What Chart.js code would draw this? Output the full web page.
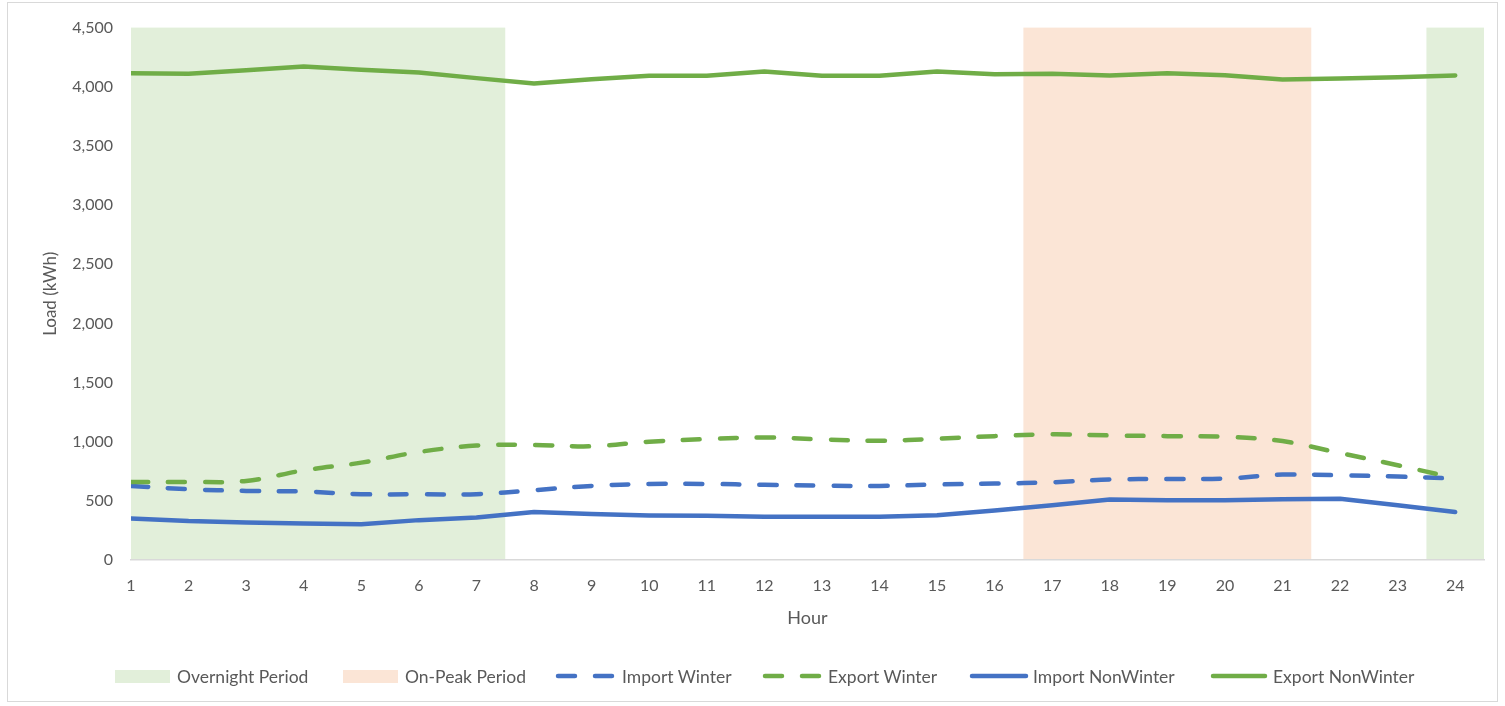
<!DOCTYPE html>
<html>
<head>
<meta charset="utf-8">
<script src="https://cdn.jsdelivr.net/npm/chart.js@4/dist/chart.umd.min.js"></script>
<style>
  body { margin: 0; background: #fff; }
  #wrap { position: relative; width: 1505px; height: 706px; font-family: Lato, sans-serif; }
  #frame { position: absolute; left: 7px; top: 2px; width: 1491px; height: 700px; border: 1px solid #d9d9d9; box-sizing: border-box; pointer-events: none; }
  .leg { position: absolute; top: 666px; height: 20px; display: flex; align-items: center; font-size: 17.5px; color: #595959; white-space: nowrap; }
  .leg .box { display: inline-block; height: 13px; }
  .leg svg { display: block; }
</style>
</head>
<body>
<div id="wrap">
  <canvas id="loadChart" width="1505" height="706"></canvas>
  <div id="frame"></div>
  <div id="legend"></div>
</div>
<script>
const hours = [1, 2, 3, 4, 5, 6, 7, 8, 9, 10, 11, 12, 13, 14, 15, 16, 17, 18, 19, 20, 21, 22, 23, 24];

const importWinter = [626, 598, 584, 579, 556, 556, 556, 590, 626, 643, 643, 635, 629, 626, 638, 646, 657, 680, 685, 688, 722, 716, 705, 688];
const exportWinter = [660, 660, 668, 758, 823, 913, 967, 972, 961, 1000, 1022, 1036, 1019, 1008, 1025, 1047, 1062, 1053, 1047, 1042, 1005, 904, 801, 692];
const importNonWinter = [351, 329, 318, 309, 303, 337, 360, 405, 388, 377, 374, 365, 365, 365, 379, 418, 463, 511, 506, 506, 514, 517, 463, 405];
const exportNonWinter = [4115, 4110, 4140, 4171, 4143, 4121, 4073, 4028, 4064, 4093, 4093, 4129, 4093, 4093, 4129, 4106, 4110, 4096, 4115, 4098, 4062, 4070, 4081, 4096];

// shaded hour ranges (start, end on the hour axis)
const overnightPeriods = [[1, 7.5], [23.5, 24.5]];
const onPeakPeriods = [[16.5, 21.5]];

const BLUE = '#4472C4';
const GREEN = '#70AD47';
const OVERNIGHT = '#E2EFDA';
const ONPEAK = '#FBE5D6';
const TEXT = '#595959';

function toPoints(values) {
  return hours.map((h, i) => ({ x: h, y: values[i] }));
}

// Draw the period bands behind the lines
const periodShading = {
  id: 'periodShading',
  beforeDatasetsDraw(chart) {
    const { ctx, chartArea, scales: { x } } = chart;
    ctx.save();
    const fill = (ranges, color) => {
      ranges.forEach(([a, b]) => {
        const x0 = x.getPixelForValue(a);
        const x1 = x.getPixelForValue(b);
        ctx.fillStyle = color;
        ctx.fillRect(x0, chartArea.top, x1 - x0, chartArea.bottom - chartArea.top - 1);
      });
    };
    fill(overnightPeriods, OVERNIGHT);
    fill(onPeakPeriods, ONPEAK);
    ctx.restore();
  }
};

const lineStyle = {
  pointRadius: 0,
  pointHoverRadius: 0,
  fill: false,
  borderCapStyle: 'round',
  borderJoinStyle: 'round'
};

new Chart(document.getElementById('loadChart'), {
  type: 'line',
  data: {
    datasets: [
      { ...lineStyle, label: 'Import Winter', data: toPoints(importWinter), borderColor: BLUE, borderWidth: 4.5, borderDash: [17, 20], tension: 0.35, order: 4 },
      { ...lineStyle, label: 'Export Winter', data: toPoints(exportWinter), borderColor: GREEN, borderWidth: 4.5, borderDash: [17, 20], tension: 0.35, order: 3 },
      { ...lineStyle, label: 'Import NonWinter', data: toPoints(importNonWinter), borderColor: BLUE, borderWidth: 4.5, tension: 0, order: 2 },
      { ...lineStyle, label: 'Export NonWinter', data: toPoints(exportNonWinter), borderColor: GREEN, borderWidth: 4.5, tension: 0, order: 1 }
    ]
  },
  options: {
    responsive: false,
    animation: false,
    events: [],
    layout: { padding: { left: 30, right: 21, top: 26, bottom: 77 } },
    plugins: {
      legend: { display: false },
      tooltip: { enabled: false }
    },
    scales: {
      x: {
        type: 'linear',
        min: 1,
        max: 24.5,
        grid: { display: false, drawTicks: false },
        border: { display: true, color: '#d9d9d9', width: 1.5 },
        ticks: {
          stepSize: 1,
          includeBounds: false,
          padding: 16,
          maxRotation: 0,
          autoSkip: false,
          color: TEXT,
          font: { family: 'Lato', size: 16 }
        },
        title: {
          display: true,
          text: 'Hour',
          color: TEXT,
          font: { family: 'Lato', size: 18 },
          padding: { top: 4, bottom: 0 }
        },
        afterFit(scale) { scale.height = 69; }
      },
      y: {
        min: 0,
        max: 4500,
        grid: { display: false, drawTicks: false },
        border: { display: false },
        ticks: {
          stepSize: 500,
          padding: 18,
          color: TEXT,
          font: { family: 'Lato', size: 16 },
          callback: v => v.toLocaleString('en-US')
        },
        title: {
          display: true,
          text: 'Load (kWh)',
          color: TEXT,
          font: { family: 'Lato', size: 17 },
          padding: { top: 10, bottom: 0 }
        },
        afterFit(scale) { scale.width = 101; }
      }
    }
  },
  plugins: [periodShading]
});

// Legend built as HTML, laid out like the original
const legendItems = [
  { label: 'Overnight Period', kind: 'box', color: OVERNIGHT, left: 115, width: 55, textLeft: 177 },
  { label: 'On-Peak Period', kind: 'box', color: ONPEAK, left: 343, width: 55, textLeft: 405 },
  { label: 'Import Winter', kind: 'dash', color: BLUE, left: 555, width: 62, textLeft: 622 },
  { label: 'Export Winter', kind: 'dash', color: GREEN, left: 762, width: 62, textLeft: 828 },
  { label: 'Import NonWinter', kind: 'line', color: BLUE, left: 969, width: 60, textLeft: 1033 },
  { label: 'Export NonWinter', kind: 'line', color: GREEN, left: 1210, width: 58, textLeft: 1273 }
];

const legendEl = document.getElementById('legend');
legendItems.forEach(item => {
  const sw = document.createElement('div');
  sw.className = 'leg';
  sw.style.left = item.left + 'px';
  if (item.kind === 'box') {
    sw.innerHTML = `<span class="box" style="width:${item.width}px;background:${item.color}"></span>`;
  } else {
    const dash = item.kind === 'dash' ? 'stroke-dasharray="17 20"' : '';
    sw.innerHTML = `<svg width="${item.width}" height="20"><line x1="3" y1="10" x2="${item.width - 3}" y2="10" stroke="${item.color}" stroke-width="4.5" stroke-linecap="round" ${dash}/></svg>`;
  }
  legendEl.appendChild(sw);

  const txt = document.createElement('div');
  txt.className = 'leg';
  txt.style.left = item.textLeft + 'px';
  txt.textContent = item.label;
  legendEl.appendChild(txt);
});
</script>
</body>
</html>
